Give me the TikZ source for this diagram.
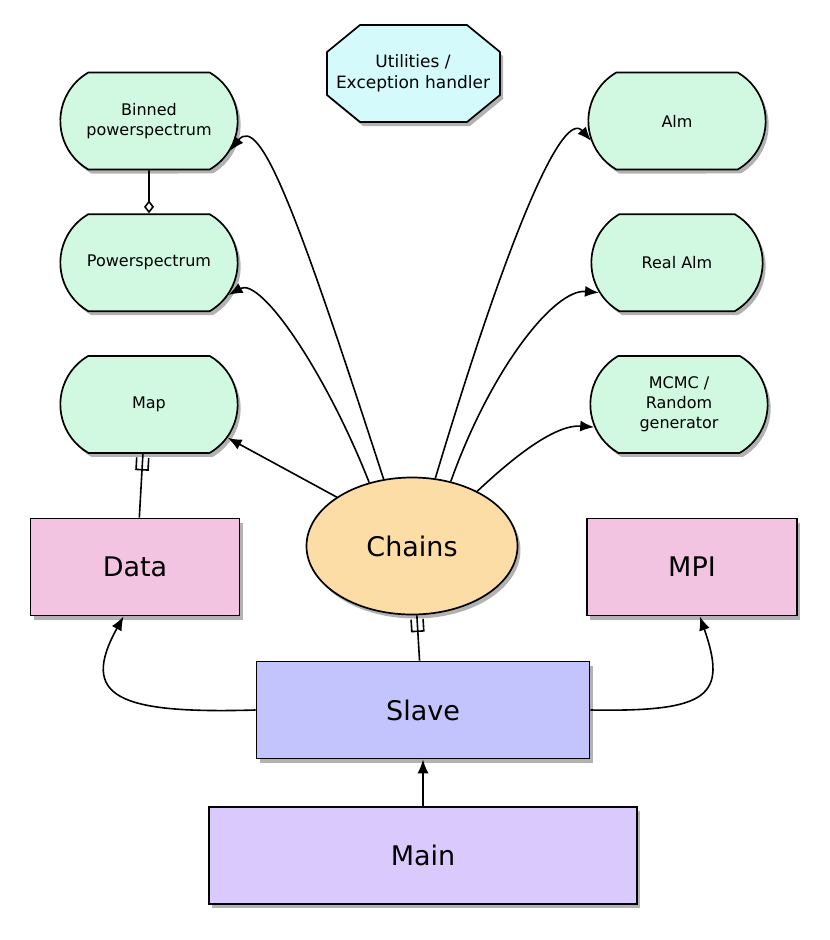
\documentclass[tikz,border=0pt]{standalone}
\usepackage{fontspec}
\setmainfont{DejaVu Sans}
\usepackage{tikz}
\usetikzlibrary{arrows.meta,positioning,shapes.misc,shapes.geometric,shadows,decorations.markings}
\definecolor{mint}{HTML}{D1F8E1}
\definecolor{utilcyan}{HTML}{D4FAFC}
\definecolor{peach}{HTML}{FDDDA6}
\definecolor{pinkbox}{HTML}{F2C4E1}
\definecolor{slaveblue}{HTML}{C3C4FD}
\definecolor{mainlilac}{HTML}{DAC9FC}

\begin{document}
\begin{tikzpicture}[x=1pt,y=1pt,node distance=43pt]
 \tikzstyle{shade}=[drop shadow={shadow xshift=3pt,shadow yshift=-4pt,opacity=.3,fill=black}]
 \tikzstyle{pill}=[rounded rectangle,rounded rectangle arc length=120,draw=black,
   line width=1.7pt,fill=mint,minimum width=184pt,minimum height=97pt,
   align=center,font=\fontsize{16}{20}\selectfont,shade]
 \tikzstyle{module}=[rectangle,draw=black,line width=1.7pt,minimum height=97pt,
   font=\fontsize{27}{32}\selectfont,shade]
 \tikzstyle{link}=[line width=1.6pt,-{Latex[length=14pt,width=11pt]}]
 \tikzstyle{forkend}=[line width=1.6pt,postaction={decorate},
   decoration={markings,mark=at position -16pt with
   {\draw[line width=1.6pt] (12pt,6pt) -- (0pt,6pt) -- (0pt,-6pt) -- (12pt,-6pt);}}]
 \useasboundingbox (0,0) rectangle (830,-940);

 \filldraw[draw=black,line width=1.7pt,fill=utilcyan,shade]
   (327,-52) -- (360,-25) -- (467,-25) -- (500,-52) -- (500,-95)
   -- (467,-122) -- (360,-122) -- (327,-95) -- cycle;
 \node (utils) [align=center,font=\fontsize{17}{21}\selectfont] at (413,-73)
   {Utilities /\\Exception handler};

 \node (binned) [pill] at (149,-121) {Binned\\powerspectrum};
 \node (powerspec) [pill,below=of binned] {Powerspectrum};
 \node (map) [pill,below=of powerspec] {Map};

 \node (alm) [pill] at (677,-121) {Alm};
 \node (realalm) [pill,below=of alm,minimum width=178pt] {Real Alm};
 \node (mcmc) [pill,below=of realalm,xshift=2pt] {MCMC /\\Random\\generator};

 \node (chains) [ellipse,draw=black,line width=1.7pt,fill=peach,
   minimum width=211pt,minimum height=137pt,
   font=\fontsize{27}{32}\selectfont,shade] at (412,-546) {Chains};
 \node (data) [module,fill=pinkbox,minimum width=209pt] at (135,-567) {Data};
 \node (mpi) [module,fill=pinkbox,minimum width=210pt] at (692,-567) {MPI};
 \node (slave) [module,fill=slaveblue,minimum width=333pt] at (423,-710) {Slave};
 \node (main) [module,fill=mainlilac,minimum width=428pt,below=47pt of slave] {Main};

 \draw[link] (chains.113) .. controls +(-85,262) and +(30,38) .. (binned.-20);
 \draw[link] (chains.124) .. controls +(-42,107) and +(33,18) .. (powerspec.-22);
 \draw[link] (chains.147) -- (map.-23);
 \draw[link] (chains.71) .. controls +(75,250) and +(-28,32) .. (alm.-167);
 \draw[link] (chains.59) .. controls +(40,112) and +(-45,4) .. (realalm.-159);
 \draw[link] (chains.40) .. controls +(34,32) and +(-40,3) .. (mcmc.-165);

 \draw[line width=1.6pt,-{Diamond[open,length=13pt,width=10pt]}] (binned) -- (powerspec);
 \draw[forkend] (data.85) -- (map.-97);
 \draw[forkend] (slave.94) -- (chains.-86);

 \draw[link] (main) -- (slave);
 \draw[link] (slave.west) .. controls +(-137,-4) and +(-45,-81) .. (data.-103);
 \draw[link] (slave.east) .. controls +(118,-2) and +(28,-80) .. (mpi.-81);
\end{tikzpicture}
\end{document}
